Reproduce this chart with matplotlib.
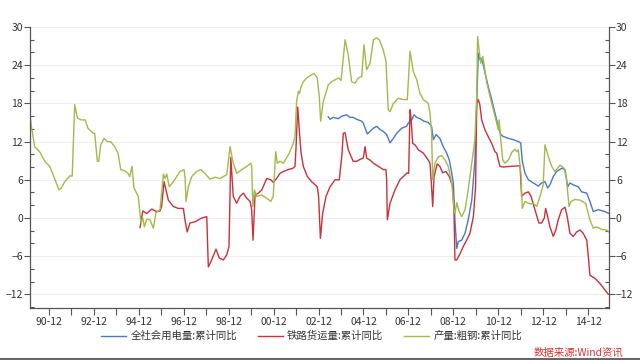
import matplotlib
matplotlib.use("Agg")
import matplotlib.pyplot as plt
from matplotlib.lines import Line2D
from matplotlib.ticker import MultipleLocator, FixedLocator

plt.rcParams['font.family'] = ['Noto Sans CJK SC', 'DejaVu Sans']

# 产量:粗钢:累计同比 (时间为小数年份)
steel_t = [1990.07, 1990.13, 1990.28, 1990.50, 1990.73, 1990.95, 1991.10, 1991.24, 1991.36, 1991.46,
           1991.62, 1991.84, 1991.95, 1992.06, 1992.18, 1992.35, 1992.53, 1992.65, 1992.88, 1992.95,
           1993.07, 1993.13, 1993.22, 1993.37, 1993.51, 1993.66, 1993.84, 1993.99, 1994.11, 1994.29,
           1994.43, 1994.51, 1994.61, 1994.70, 1994.89, 1995.01, 1995.09, 1995.16, 1995.27, 1995.41,
           1995.56, 1995.68, 1995.86, 1996.01, 1996.08, 1996.16, 1996.27, 1996.45, 1996.75, 1996.93,
           1996.97, 1997.02, 1997.12, 1997.27, 1997.49, 1997.67, 1997.86, 1998.08, 1998.31, 1998.53,
           1998.83, 1998.98, 1999.10, 1999.27, 1999.50, 1999.72, 1999.90, 1999.94, 1999.99, 2000.06,
           2000.16, 2000.39, 2000.61, 2000.79, 2000.90, 2001.01, 2001.08, 2001.20, 2001.35, 2001.62,
           2001.79, 2001.87, 2001.94, 2002.02, 2002.07, 2002.12, 2002.24, 2002.39, 2002.61, 2002.72,
           2002.86, 2002.95, 2003.01, 2003.13, 2003.35, 2003.50, 2003.80, 2003.92, 2004.10, 2004.24,
           2004.39, 2004.54, 2004.69, 2004.84, 2004.94, 2005.06, 2005.21, 2005.36, 2005.51, 2005.62,
           2005.80, 2005.92, 2006.02, 2006.10, 2006.25, 2006.47, 2006.69, 2006.87, 2006.99, 2007.14,
           2007.29, 2007.43, 2007.58, 2007.80, 2007.88, 2007.95, 2008.00, 2008.10, 2008.25, 2008.40,
           2008.55, 2008.69, 2008.85, 2008.95, 2008.99, 2009.07, 2009.18, 2009.29, 2009.44, 2009.58,
           2009.74, 2009.88, 2009.96, 2010.00, 2010.07, 2010.14, 2010.23, 2010.30, 2010.40, 2010.55,
           2010.70, 2010.85, 2010.92, 2010.96, 2011.03, 2011.12, 2011.22, 2011.37, 2011.52, 2011.66,
           2011.77, 2011.81, 2011.93, 2011.99, 2012.11, 2012.33, 2012.48, 2012.63, 2012.78, 2012.92,
           2013.00, 2013.15, 2013.30, 2013.44, 2013.67, 2013.86, 2013.96, 2014.07, 2014.16, 2014.33,
           2014.56, 2014.81, 2015.00, 2015.15, 2015.30, 2015.52, 2015.75, 2015.85]
steel_v = [16.2, 14.4, 11.2, 10.4, 8.9, 8.1, 6.8, 5.5, 4.4, 4.7,
           5.7, 6.6, 6.6, 17.8, 15.7, 15.4, 15.4, 14.1, 13.3, 13.3,
           8.9, 8.9, 11.5, 12.5, 12.0, 12.0, 11.2, 10.2, 7.6, 7.4,
           7.0, 6.5, 8.1, 4.7, 3.4, -0.8, 0.0, -1.4, -0.2, -0.3,
           -1.6, 0.8, 1.3, 6.9, 6.2, 6.9, 4.9, 5.7, 7.3, 7.6,
           6.5, 2.6, 4.9, 6.5, 7.3, 7.6, 7.0, 6.1, 6.4, 6.2,
           6.8, 11.2, 8.9, 7.0, 7.6, 8.1, 8.6, 8.1, 1.8, 4.4,
           3.4, 3.6, 3.1, 2.6, 3.4, 10.4, 8.6, 8.9, 8.6, 10.2,
           11.7, 12.8, 18.3, 19.9, 19.6, 20.4, 21.4, 22.0, 22.5, 22.7,
           22.0, 19.1, 15.2, 18.3, 20.9, 21.4, 22.0, 21.6, 28.0, 25.6,
           21.4, 21.2, 22.0, 22.2, 27.2, 23.3, 24.3, 28.0, 28.3, 28.0,
           26.4, 24.6, 17.0, 16.7, 18.0, 18.8, 18.6, 18.6, 26.2, 23.0,
           21.7, 19.6, 18.6, 18.0, 16.5, 13.3, 6.0, 8.6, 9.6, 9.8,
           9.1, 8.1, 5.5, 1.3, 0.7, 2.4, 1.0, 0.2, 1.3, 4.4,
           8.6, 12.3, 19.1, 28.5, 26.2, 24.3, 25.4, 23.8, 21.4, 19.1,
           17.0, 14.9, 13.8, 15.4, 12.3, 9.1, 8.6, 9.1, 10.3, 10.8,
           10.4, 10.7, 7.0, 1.5, 2.6, 2.2, 2.3, 1.8, 3.4, 5.2,
           11.5, 9.6, 8.1, 7.3, 8.3, 7.8, 6.0, 1.8, 2.6, 2.9,
           2.8, 2.3, -0.3, -1.6, -1.4, -1.8, -1.9, -2.2]

# 铁路货运量:累计同比
rail_t = [1994.97, 1995.09, 1995.27, 1995.49, 1995.71, 1995.86, 1995.93, 1996.04, 1996.23, 1996.45,
          1996.67, 1996.90, 1996.97, 1997.07, 1997.19, 1997.42, 1997.72, 1997.94, 1998.01, 1998.16,
          1998.35, 1998.50, 1998.68, 1998.83, 1998.93, 1999.01, 1999.12, 1999.27, 1999.42, 1999.57,
          1999.72, 1999.87, 1999.94, 2000.00, 2000.09, 2000.24, 2000.39, 2000.61, 2000.79, 2000.90,
          2001.05, 2001.20, 2001.35, 2001.57, 2001.77, 2001.87, 2001.91, 2001.99, 2002.06, 2002.14,
          2002.24, 2002.42, 2002.61, 2002.86, 2002.92, 2003.00, 2003.10, 2003.25, 2003.43, 2003.65,
          2003.84, 2003.95, 2004.02, 2004.10, 2004.24, 2004.46, 2004.62, 2004.76, 2004.91, 2004.99,
          2005.06, 2005.21, 2005.36, 2005.58, 2005.80, 2005.92, 2005.95, 2005.98, 2006.10, 2006.32,
          2006.54, 2006.69, 2006.87, 2006.93, 2006.99, 2007.03, 2007.11, 2007.21, 2007.36, 2007.58,
          2007.80, 2007.88, 2007.95, 2008.00, 2008.06, 2008.20, 2008.32, 2008.44, 2008.59, 2008.74,
          2008.89, 2008.95, 2008.99, 2009.07, 2009.22, 2009.36, 2009.51, 2009.66, 2009.81, 2009.91,
          2009.96, 2010.03, 2010.10, 2010.18, 2010.33, 2010.47, 2010.63, 2010.77, 2010.85, 2010.92,
          2011.00, 2011.14, 2011.44, 2011.89, 2011.96, 2012.11, 2012.26, 2012.38, 2012.55, 2012.73,
          2012.85, 2012.97, 2013.03, 2013.12, 2013.22, 2013.37, 2013.48, 2013.59, 2013.74, 2013.89,
          2013.99, 2014.11, 2014.26, 2014.41, 2014.56, 2014.70, 2014.86, 2014.93, 2015.00, 2015.23,
          2015.45, 2015.67, 2015.82, 2015.85]
rail_v = [-1.5, 1.1, 0.7, 1.4, 1.0, 1.1, 1.8, 5.7, 2.8, 1.8,
          1.5, 1.5, -0.3, -2.2, -0.8, -0.6, 0.0, 0.2, -7.7, -6.6,
          -4.9, -6.3, -6.6, -5.8, -4.5, 9.5, 3.4, 2.3, 3.4, 3.9,
          3.1, 2.6, 1.3, -3.5, 3.6, 3.9, 4.4, 6.2, 6.0, 5.6,
          6.2, 7.0, 7.3, 7.6, 7.8, 8.1, 10.7, 17.4, 13.8, 10.2,
          8.1, 6.5, 5.7, 4.9, 3.4, -3.2, 0.7, 3.4, 4.9, 6.0,
          6.0, 9.6, 13.3, 13.4, 10.7, 8.9, 8.9, 9.2, 9.4, 11.2,
          9.4, 9.1, 8.6, 8.1, 7.6, 7.6, 6.0, -0.3, 2.3, 4.4,
          6.0, 6.5, 7.1, 7.0, 17.0, 15.9, 11.7, 11.5, 10.7, 10.2,
          9.1, 8.6, 4.9, 1.8, 6.5, 8.5, 8.1, 7.1, 7.3, 6.5,
          4.9, 0.7, -6.6, -6.6, -5.6, -4.5, -3.5, -2.4, 0.2, 4.9,
          18.0, 18.6, 17.8, 15.4, 13.8, 12.8, 11.7, 10.4, 10.2, 9.1,
          8.1, 8.0, 8.1, 8.2, 3.4, 3.9, 4.1, 3.4, 1.3, -0.8,
          -0.8, 0.0, 1.5, 0.2, -1.4, -2.9, -1.9, -0.3, 1.3, 1.7,
          0.2, -2.4, -2.9, -2.2, -1.9, -2.4, -3.5, -6.1, -9.0, -9.5,
          -10.3, -11.3, -12.0, -12.0]

# 全社会用电量:累计同比
power_t = [2003.35, 2003.43, 2003.57, 2003.80, 2003.95, 2004.17, 2004.32, 2004.46, 2004.62, 2004.84,
           2004.91, 2005.09, 2005.21, 2005.36, 2005.51, 2005.65, 2005.80, 2005.95, 2006.10, 2006.25,
           2006.40, 2006.62, 2006.84, 2006.91, 2007.06, 2007.17, 2007.29, 2007.43, 2007.61, 2007.80,
           2007.95, 2008.03, 2008.15, 2008.32, 2008.47, 2008.62, 2008.74, 2008.85, 2008.92, 2008.99,
           2009.07, 2009.14, 2009.29, 2009.44, 2009.58, 2009.74, 2009.88, 2009.96, 2010.03, 2010.10,
           2010.18, 2010.33, 2010.47, 2010.63, 2010.77, 2010.92, 2011.03, 2011.14, 2011.37, 2011.59,
           2011.81, 2011.92, 2011.99, 2012.11, 2012.26, 2012.48, 2012.70, 2012.85, 2013.00, 2013.12,
           2013.22, 2013.37, 2013.52, 2013.74, 2013.89, 2014.01, 2014.11, 2014.26, 2014.48, 2014.63,
           2014.86, 2015.00, 2015.15, 2015.37, 2015.67, 2015.85]
power_v = [15.9, 15.5, 15.8, 15.6, 16.0, 16.2, 15.8, 15.8, 15.5, 15.2,
           14.9, 13.2, 13.6, 14.1, 14.4, 13.9, 13.6, 13.1, 11.8, 12.5,
           13.3, 14.1, 14.4, 14.9, 15.4, 16.2, 15.8, 15.6, 15.2, 15.0,
           14.4, 12.3, 13.1, 12.5, 11.2, 10.2, 9.1, 7.0, 5.5, -0.3,
           -4.8, -3.7, -3.5, -2.4, -0.3, 2.8, 9.1, 18.0, 25.9, 24.9,
           25.1, 22.8, 20.7, 18.6, 16.5, 14.4, 13.1, 12.8, 12.5, 12.3,
           12.0, 11.8, 8.9, 7.0, 6.0, 5.5, 5.0, 5.5, 5.7, 4.7,
           5.2, 6.5, 7.3, 7.8, 7.6, 4.9, 5.5, 5.2, 4.9, 4.1,
           3.9, 2.6, 1.0, 1.3, 1.0, 0.7]

years_major = list(range(1990, 2015, 2))
tick_labels = ['%02d-12' % (y % 100) for y in years_major]

fig = plt.figure(figsize=(6.4, 3.6), dpi=100)
ax = fig.add_axes([30 / 640, 1 - 307.7 / 360, 579 / 640, (307.7 - 27) / 360])

ax.plot(power_t, power_v, color='#4a78c4', lw=1.0, label='全社会用电量:累计同比')
ax.plot(rail_t, rail_v, color='#c9323a', lw=1.0, label='铁路货运量:累计同比')
ax.plot(steel_t, steel_v, color='#a3b94c', lw=1.0, label='产量:粗钢:累计同比')

ax.set_xlim(1990.07, 2015.85)
ax.set_ylim(-14.1, 30)

ax.xaxis.set_major_locator(FixedLocator([y + 11 / 12 for y in years_major]))
ax.set_xticklabels(tick_labels)
ax.xaxis.set_minor_locator(FixedLocator([y + 1 + 11 / 12 for y in years_major]))
ax.yaxis.set_major_locator(MultipleLocator(6))
ax.yaxis.set_minor_locator(MultipleLocator(2))

ax.tick_params(axis='x', which='both', direction='out', length=5, width=0.8,
               color='#555555', labelsize=7.5, labelcolor='#333333', pad=2)
ax.tick_params(axis='y', which='major', direction='out', length=4, width=0.8,
               color='#555555', labelsize=7.5, labelcolor='#333333', pad=1,
               left=True, right=True, labelleft=True, labelright=True)
ax.tick_params(axis='y', which='minor', direction='in', length=3, width=0.8,
               color='#555555', left=True, right=True)

for side in ['left', 'right', 'bottom']:
    ax.spines[side].set_color('#555555')
    ax.spines[side].set_linewidth(0.9)
ax.spines['top'].set_visible(False)

ax.grid(axis='y', which='major', color='#eeeeee', lw=0.8)
ax.set_axisbelow(True)

fig.legend(loc='center', bbox_to_anchor=(0.487, 1 - 336 / 360), ncol=3, frameon=False,
           fontsize=7.5, handlelength=2.4, handletextpad=0.4, columnspacing=2.0,
           labelcolor='#333333')

fig.text(623 / 640, 1 - 353 / 360, '数据来源:Wind资讯', color='#e03030', fontsize=7.5,
         ha='right', va='center', style='italic')

fig.add_artist(Line2D([0, 1], [0.002, 0.002], color='#666666', lw=1.5, transform=fig.transFigure))

fig.savefig('out.png', dpi=100)
